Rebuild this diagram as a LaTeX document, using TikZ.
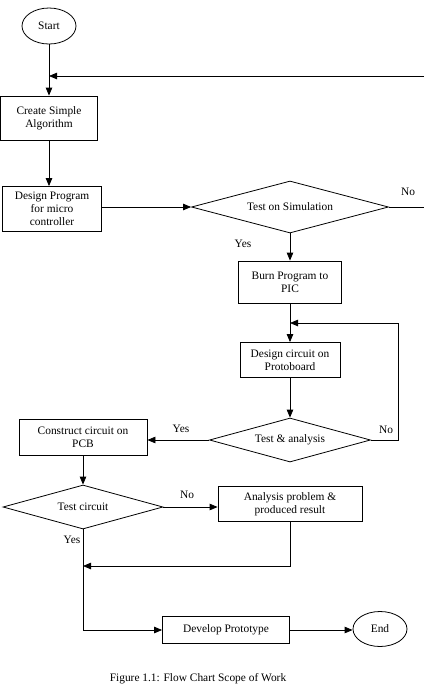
\documentclass[tikz,border=0pt]{standalone}
\usepackage{fontspec}
\setmainfont{Liberation Serif}
\usetikzlibrary{shapes.geometric,arrows.meta}
\tikzset{
  flowbox/.style={draw, rectangle, align=center, inner sep=2pt},
  decision/.style={draw, diamond, inner sep=0pt},
  terminal/.style={draw, ellipse, inner sep=0pt},
  flowarrow/.style={-{Triangle[length=8pt,width=6.5pt]}},
}
\begin{document}
\begin{tikzpicture}[x=1pt, y=-1pt, line width=0.8pt,
    every node/.style={font=\fontsize{11.4}{13}\selectfont}]
      \useasboundingbox (0,0) rectangle (424,689);
      \draw
        (49,26) node[terminal, minimum width=54pt, minimum height=36pt] (start){Start}
        (49,118) node[flowbox, minimum width=97pt, minimum height=44pt] (create){Create Simple\\Algorithm}
        (52,209) node[flowbox, minimum width=99pt, minimum height=45pt] (program){Design Program\\for micro\\controller}
        (290,207) node[decision, minimum width=197pt, minimum height=52pt, aspect=3.8] (sim){Test on Simulation}
        (290,282) node[flowbox, minimum width=103pt, minimum height=42pt] (burn){Burn Program to\\PIC}
        (290,360) node[flowbox, minimum width=100pt, minimum height=35pt] (proto){Design circuit on\\Protoboard}
        (290,440) node[decision, minimum width=161pt, minimum height=44pt, aspect=3.7] (analysis){Test \& analysis}
        (83,437) node[flowbox, minimum width=128pt, minimum height=36pt] (pcb){Construct circuit on\\PCB}
        (83,507) node[decision, minimum width=160pt, minimum height=44pt, aspect=3.6] (check){Test circuit}
        (290,504) node[flowbox, minimum width=144pt, minimum height=35pt] (problem){Analysis problem \&\\produced result}
        (226,630) node[flowbox, minimum width=127pt, minimum height=27pt] (develop){Develop Prototype}
        (380,629) node[terminal, minimum width=54pt, minimum height=35pt] (end){End}
        (198,679) node (caption){Figure 1.1: Flow Chart Scope of Work};
      % branch labels
      \draw
        (408,192) node (simno){No}
        (243,244) node (simyes){Yes}
        (386,430) node (analysisno){No}
        (181,429) node (analysisyes){Yes}
        (187,495) node (checkno){No}
        (72,540) node (checkyes){Yes};
      \coordinate (simout) at (424,207);
      \coordinate (loopin) at (424,76);
      \coordinate (retry) at (398,323);
      \coordinate (merge) at (83,566);
      \begin{scope}[flowarrow]
        \draw (start) to (create);
        \draw (loopin) to (loopin -| create.north);
        \draw (create.south) to (create.south |- program.north);
        \draw (program.east |- sim.west) to (sim.west);
        \draw (sim) to (burn);
        \draw (burn) to (proto);
        \draw (analysis.east) -| (retry) -- (retry -| proto.north);
        \draw (proto) to (analysis);
        \draw (analysis.west) to (analysis.west -| pcb.east);
        \draw (pcb) to (check);
        \draw (check.east) to (check.east -| problem.west);
        \draw (problem.south) |- (merge);
        \draw (check.south) |- (develop.west);
        \draw (develop.east) to (develop.east -| end.west);
      \end{scope}
      \draw (sim.east) -- (simout);
    \end{tikzpicture}
\end{document}
